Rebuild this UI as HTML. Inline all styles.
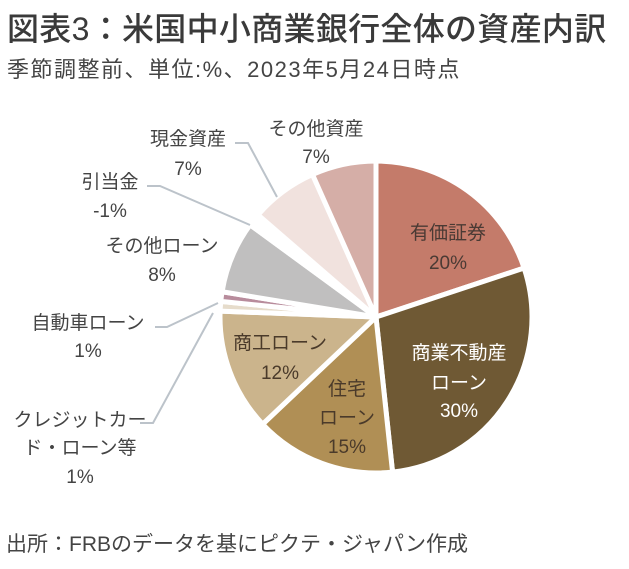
<!DOCTYPE html>
<html><head><meta charset="utf-8">
<style>
body{margin:0;background:#fff;width:629px;height:569px;overflow:hidden;font-family:"Liberation Sans","Noto Sans CJK JP",sans-serif;color:#333;}
.t{position:absolute;white-space:nowrap;}
</style></head><body>
<div class="t" style="left:7px;top:4px;font-size:32px;font-weight:500;color:#3a3a3a;letter-spacing:0.3px;">図表3：米国中小商業銀行全体の資産内訳</div>
<div class="t" style="left:7px;top:52px;font-size:22px;color:#444;letter-spacing:1.5px;">季節調整前、単位:%、2023年5月24日時点</div>
<svg id="chart" width="629" height="569" style="position:absolute;left:0;top:0"></svg>
<div class="t" style="left:6px;top:528px;font-size:21px;color:#444;">出所：FRBのデータを基にピクテ・ジャパン作成</div>
<script>
const categories=["有価証券","商業不動産ローン","住宅ローン","商工ローン","クレジットカード・ローン等","自動車ローン","その他ローン","引当金","現金資産","その他資産"];
const values=[20,28.5,14.7,12.7,1,1,7.5,1.3,7,6.7];
const valueLabels=["20%","30%","15%","12%","1%","1%","8%","-1%","7%","7%"];
const colors=["#c47b6a","#6f5934","#b08f55","#cbb48c","#e6dccb","#b88c9c","#c0bfbf","#ffffff","#f1e2de","#d5aea7"];
const svg=document.getElementById('chart');const NS="http://www.w3.org/2000/svg";
const cx=376,cy=317,r=156;
const total=values.reduce((a,b)=>a+b,0);
function pt(a,rr){return [cx+rr*Math.sin(a),cy-rr*Math.cos(a)];}
let acc=0;
values.forEach((v,i)=>{
  const a0=acc/total*2*Math.PI;acc+=v;const a1=acc/total*2*Math.PI;
  const p0=pt(a0,r),p1=pt(a1,r);const large=(a1-a0)>Math.PI?1:0;
  const p=document.createElementNS(NS,'path');
  p.setAttribute('d',`M${cx},${cy}L${p0[0]},${p0[1]}A${r},${r} 0 ${large} 1 ${p1[0]},${p1[1]}Z`);
  p.setAttribute('fill',colors[i]);p.setAttribute('stroke','#fff');p.setAttribute('stroke-width','5');
  
  
  svg.appendChild(p);
});
const lines=[[[235,143],[248,143],[277,197]],[[147,186],[160,186],[250,225]],[[155,327],[167,327],[218,303]],[[140,423],[153,423],[213,313]]];
lines.forEach((l,i)=>{
  const pl=document.createElementNS(NS,'polyline');
  pl.setAttribute('points',l.map(p=>p.join(',')).join(' '));
  pl.setAttribute('fill','none');pl.setAttribute('stroke','#bcc3ca');pl.setAttribute('stroke-width','2');
  
  
  svg.appendChild(pl);
});
const labels=[
 [0,448,[[232,"有価証券"],[262,null]],"#4a3a34"],
 [1,459,[[352,"商業不動産"],[382,"ローン"],[410,null]],"#fff"],
 [2,347,[[388,"住宅"],[417,"ローン"],[446,null]],"#4a3a2a"],
 [3,280,[[342,"商工ローン"],[372,null]],"#4a3a2a"],
 [4,80,[[419,"クレジットカー"],[447,"ド・ローン等"],[476,null]],"#444"],
 [5,88,[[322,"自動車ローン"],[350,null]],"#444"],
 [6,162,[[245,"その他ローン"],[274,null]],"#444"],
 [7,110,[[181,"引当金"],[210,null]],"#444"],
 [8,188,[[138,"現金資産"],[168,null]],"#444"],
 [9,316,[[128,"その他資産"],[156,null]],"#444"]];
labels.forEach(([i,x,rows,c])=>{
  rows.forEach(([y,txt],k)=>{
    const t=document.createElementNS(NS,'text');
    t.setAttribute('x',x);t.setAttribute('y',y+7);t.setAttribute('text-anchor','middle');
    t.setAttribute('font-size','19');t.setAttribute('fill',c);
    t.textContent=txt===null?valueLabels[i]:txt;
    
    
    svg.appendChild(t);
  });
});
</script>
</body></html>
